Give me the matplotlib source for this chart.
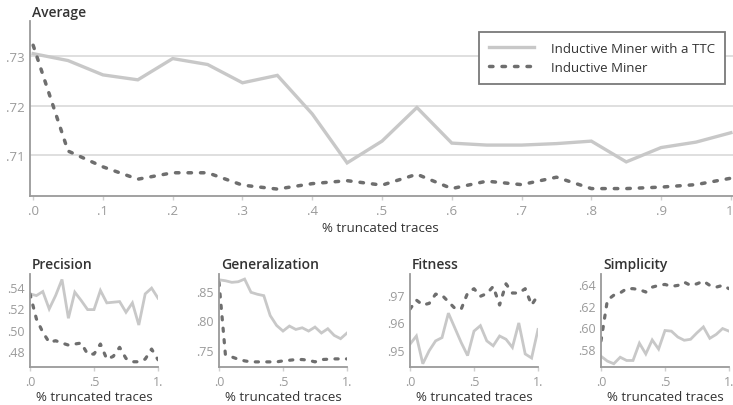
import numpy as np
import matplotlib
matplotlib.use('Agg')
import matplotlib.pyplot as plt

plt.rcParams['font.family'] = ['Open Sans', 'DejaVu Sans']

# truncation levels (fraction of truncated traces)
trunc = [0.00, 0.05, 0.10, 0.15, 0.20, 0.25, 0.30, 0.35, 0.40, 0.45, 0.50,
         0.55, 0.60, 0.65, 0.70, 0.75, 0.80, 0.85, 0.90, 0.95, 1.00]

avg_ttc = [.7305, .7291, .7262, .7252, .7295, .7283, .7246, .7261, .7183, .7084, .7128,
           .7196, .7124, .7120, .7120, .7123, .7128, .7086, .7115, .7126, .7145]
avg_im = [.7322, .7108, .7076, .7051, .7064, .7064, .7039, .7031, .7042, .7048, .7039,
          .7061, .7032, .7047, .7040, .7055, .7032, .7032, .7035, .7040, .7053]

prec_ttc = [.5334, .5318, .5356, .5193, .5318, .5469, .5106, .5350, .5272, .5187, .5187,
            .5366, .5250, .5256, .5262, .5162, .5250, .5043, .5334, .5388, .5294]
prec_im = [.5334, .5100, .4975, .4881, .4896, .4874, .4855, .4865, .4874, .4771, .4771,
           .4865, .4724, .4749, .4834, .4730, .4699, .4699, .4724, .4818, .4718]

gen_ttc = [.8683, .8667, .8640, .8650, .8695, .8473, .8440, .8417, .8083, .7917, .7823,
           .7907, .7850, .7878, .7823, .7890, .7790, .7862, .7750, .7695, .7790]
gen_im = [.8640, .7428, .7389, .7350, .7323, .7306, .7306, .7306, .7306, .7306, .7323,
          .7333, .7345, .7345, .7333, .7306, .7345, .7350, .7356, .7356, .7356]

fit_ttc = [.9520, .9550, .9448, .9496, .9532, .9544, .9634, .9580, .9526, .9478, .9568,
           .9588, .9532, .9514, .9550, .9538, .9508, .9598, .9484, .9469, .9574]
fit_im = [.9649, .9682, .9664, .9670, .9704, .9700, .9676, .9652, .9649, .9708, .9724,
          .9696, .9706, .9732, .9664, .9742, .9708, .9708, .9724, .9664, .9700]

simp_ttc = [.5733, .5688, .5664, .5724, .5694, .5694, .5853, .5754, .5883, .5799, .5970,
            .5964, .5910, .5880, .5889, .5949, .6003, .5898, .5934, .5988, .5964]
simp_im = [.5874, .6250, .6295, .6316, .6355, .6355, .6346, .6324, .6369, .6385, .6394,
           .6376, .6385, .6415, .6385, .6400, .6424, .6385, .6369, .6385, .6355]

main_xticks = [0.0, 0.1, 0.2, 0.3, 0.4, 0.5, 0.6, 0.7, 0.8, 0.9, 1.0]
main_xlabels = ['.0', '.1', '.2', '.3', '.4', '.5', '.6', '.7', '.8', '.9', '1.']
main_yticks = [0.71, 0.72, 0.73]
main_ylabels = ['.71', '.72', '.73']

small_xticks = [0.0, 0.5, 1.0]
small_xlabels = ['.0', '.5', '1.']

panels = [
    ('Precision', prec_ttc, prec_im, (0.465, 0.552), [0.48, 0.50, 0.52, 0.54], ['.48', '.50', '.52', '.54']),
    ('Generalization', gen_ttc, gen_im, (0.722, 0.878), [0.75, 0.80, 0.85], ['.75', '.80', '.85']),
    ('Fitness', fit_ttc, fit_im, (0.9436, 0.9778), [0.95, 0.96, 0.97], ['.95', '.96', '.97']),
    ('Simplicity', simp_ttc, simp_im, (0.5634, 0.649), [0.58, 0.60, 0.62, 0.64], ['.58', '.60', '.62', '.64']),
]

W, H = 733, 406
fig = plt.figure(figsize=(W / 100, H / 100), dpi=100)

light = '#c8c8c8'
dark = '#6e6e6e'
spine_c = '#9a9a9a'
tick_c = '#9a9a9a'
text_c = '#333333'


def px_axes(l, t, r, b):
    return fig.add_axes([l / W, 1 - b / H, (r - l) / W, (b - t) / H])


def style(ax, fs):
    for s in ['top', 'right']:
        ax.spines[s].set_visible(False)
    for s in ['left', 'bottom']:
        ax.spines[s].set_color(spine_c)
        ax.spines[s].set_linewidth(1.3)
    ax.tick_params(axis='x', length=3, width=1, color='#d0d0d0', pad=3,
                   labelsize=fs, labelcolor=tick_c)
    ax.tick_params(axis='y', length=0, pad=4, labelsize=fs, labelcolor=tick_c)


def draw(ax, xs, y1, y2, lw1, lw2):
    ax.plot(xs, y1, color=light, lw=lw1, solid_joinstyle='miter',
            label='Inductive Miner with a TTC')
    ax.plot(xs, y2, color=dark, lw=lw2, linestyle=(0, (1.0, 2.6)),
            dash_capstyle='round', label='Inductive Miner')


# main "Average" panel
ax = px_axes(30, 22, 733, 197)
style(ax, 9.5)
ax.set_axisbelow(True)
ax.grid(axis='y', color='#dcdcdc', lw=1.3)
draw(ax, trunc, avg_ttc, avg_im, 2.4, 2.5)
ax.set_xlim(-0.0045, 1.003)
ax.set_ylim(0.7017, 0.7371)
ax.set_xticks(main_xticks)
ax.set_xticklabels(main_xlabels)
ax.set_yticks(main_yticks)
ax.set_yticklabels(main_ylabels)
fig.text(32 / W, 1 - 13 / H, 'Average', fontsize=10, fontweight='semibold',
         color=text_c, ha='left', va='center')
fig.text(380 / W, 1 - 229 / H, '% truncated traces', fontsize=9.5,
         color=text_c, ha='center', va='center')
leg = ax.legend(loc='upper left', bbox_to_anchor=(479 / W, 1 - 33 / H),
                bbox_transform=fig.transFigure, fontsize=9.5, frameon=True,
                fancybox=False, framealpha=1, edgecolor='#7a7a7a',
                handlelength=3.4, handletextpad=1.3, borderpad=0.75,
                labelspacing=0.45, borderaxespad=0)
leg.get_frame().set_linewidth(1.3)
for t in leg.get_texts():
    t.set_color(text_c)

# small panels
lefts = [30, 219, 410, 601]
for (title, y1, y2, ylim, yt, yl), l in zip(panels, lefts):
    a = px_axes(l, 275, l + 128, 368)
    style(a, 9)
    draw(a, trunc, y1, y2, 2.0, 2.3)
    a.set_xlim(0, 1.0)
    a.set_ylim(*ylim)
    a.set_xticks(small_xticks)
    a.set_xticklabels(small_xlabels)
    a.set_yticks(yt)
    a.set_yticklabels(yl)
    fig.text((l + 2) / W, 1 - 265 / H, title, fontsize=10, fontweight='semibold',
             color=text_c, ha='left', va='center')
    fig.text((l + 64) / W, 1 - 398 / H, '% truncated traces', fontsize=9.5,
             color=text_c, ha='center', va='center')

fig.savefig('out.png', dpi=100)
